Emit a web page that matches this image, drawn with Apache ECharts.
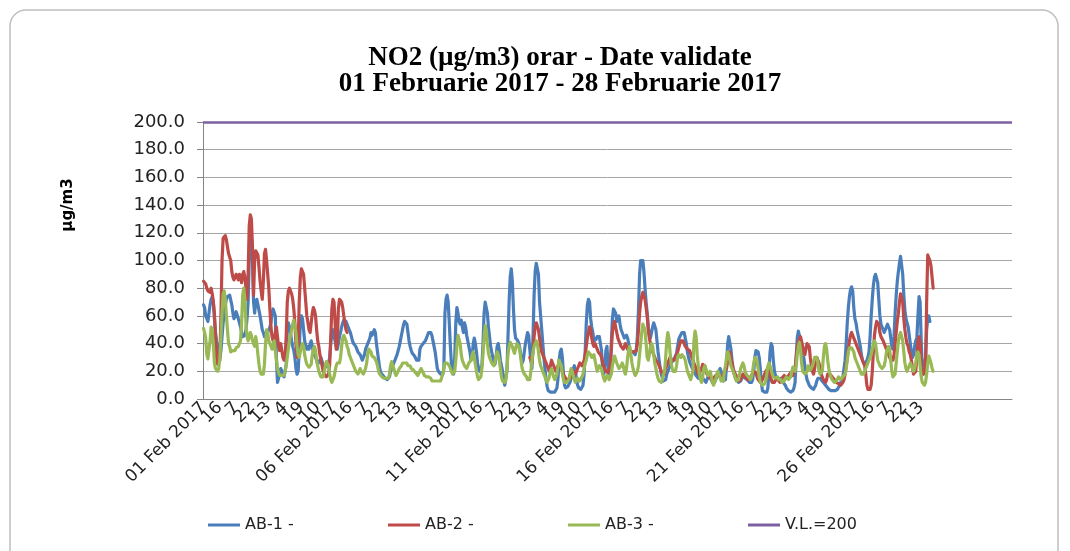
<!DOCTYPE html>
<html><head><meta charset="utf-8">
<script src="https://cdn.jsdelivr.net/npm/echarts@6/dist/echarts.min.js"></script>
<style>html,body{margin:0;padding:0;background:#fff}#c{width:1070px;height:551px}</style>
</head><body><div id="c"></div>
<script>
const _ = null;
const TITLE_1 = 'NO2 (µg/m3) orar - Date validate';
const TITLE_2 = '01 Februarie 2017 - 28 Februarie 2017';
const Y_NAME = 'µg/m3';
const MONTH = 'Feb 2017';
const DAYS_WITH_DATA = 28, DAYS_ON_AXIS = 31, HOURS = 24;
const LABEL_EVERY = 15;
const Y_MIN = 0, Y_MAX = 200, Y_STEP = 20;
const VL = 200;
const NAMES = ['AB-1 -', 'AB-2 -', 'AB-3 -', 'V.L.=200'];
const COLORS = ['#4A7EBB', '#BE4B48', '#98B954', '#7D60A0'];

// hourly values, one row per day (01..28 Feb 2017)
const AB1 = [
68,66,60,58,56,62,68,72,74,70,58,48,42,38,32,30,35,45,55,62,68,72,74,75,
75,74,68,62,58,60,63,62,58,55,52,48,45,44,46,50,58,70,100,114,116,100,70,62,
70,72,68,64,60,55,50,48,45,44,46,48,50,52,55,62,65,66,60,30,12,15,20,22,
22,18,16,20,25,50,55,52,48,42,38,35,30,22,18,20,35,55,60,58,50,42,38,36,
38,36,40,42,38,34,32,30,28,25,26,28,30,27,25,24,23,22,24,26,30,40,48,50,
45,42,38,36,40,45,48,52,55,57,56,56,54,52,50,48,45,42,40,40,38,36,34,33,
32,30,28,30,32,36,38,40,42,44,48,46,48,50,48,40,34,28,22,19,18,17,16,15,
15,14,14,16,20,22,24,26,28,30,32,35,38,42,46,50,54,56,57,54,48,42,38,35,
33,32,31,30,28,27,28,36,38,38,40,40,42,44,46,48,49,48,46,42,38,34,28,22,
20,19,18,17,18,22,62,72,75,70,55,38,25,20,18,30,55,66,62,56,54,57,52,48,
55,52,46,42,38,34,28,30,40,44,40,34,26,22,20,21,24,40,62,70,71,62,52,45,
38,34,30,27,25,30,38,40,35,28,24,20,14,10,9,20,45,70,88,94,85,65,50,44,
43,42,40,36,30,26,28,34,40,44,48,46,36,28,22,45,75,92,98,99,90,70,60,50,
40,30,22,14,9,6,5,5,4,5,6,5,6,8,15,28,34,36,30,18,10,8,9,9,
9,12,15,18,22,24,20,14,10,8,7,7,8,10,18,35,55,68,72,70,58,52,48,42,
42,43,45,46,45,44,35,22,18,22,35,38,25,18,20,40,58,65,66,62,56,58,60,54,
50,48,46,44,45,46,44,40,36,34,33,34,33,32,36,45,65,90,100,101,100,92,80,70,
62,52,46,44,48,52,55,54,50,42,34,28,22,18,15,13,12,14,18,20,22,24,26,27,
28,29,31,33,38,43,45,46,48,49,48,47,40,34,30,27,25,23,22,20,19,17,16,15,
18,17,16,15,14,13,12,14,16,18,16,14,12,11,12,14,15,17,20,22,20,15,13,12,
14,25,40,45,44,36,28,22,18,16,15,14,12,11,13,15,17,16,15,14,14,13,12,12,
12,14,20,30,35,36,34,30,22,12,6,5,5,4,5,8,20,34,40,38,28,20,17,15,
15,14,14,15,14,12,11,10,8,7,6,6,5,5,6,8,12,30,44,49,46,40,34,28,
30,24,18,14,12,10,9,8,8,7,8,10,13,15,16,15,14,13,12,11,10,9,8,7,
7,6,6,6,5,6,6,7,8,10,12,14,16,22,28,40,55,66,74,79,81,78,66,58,
55,50,46,42,38,32,28,26,25,26,28,30,34,45,60,72,82,88,90,89,84,72,60,54,
52,50,48,50,52,54,54,50,44,38,36,45,62,75,85,92,98,103,102,90,75,64,58,55,
52,46,40,34,30,32,38,42,44,60,74,70,42,22,18,17,30,50,58,60,56,_,_,_
];
const AB2 = [
85,84,83,80,78,78,77,80,76,70,62,45,30,25,24,28,60,100,116,117,118,115,110,105,
106,100,92,88,86,87,90,88,86,90,88,84,90,92,88,80,72,90,125,133,130,110,75,100,
107,108,104,95,85,78,72,85,105,108,100,90,80,65,52,45,42,40,48,52,45,38,35,40,
35,30,28,30,45,70,78,80,78,76,72,65,55,40,30,40,70,88,94,95,90,80,70,60,
55,50,48,55,62,66,64,60,50,42,38,32,28,24,20,18,17,16,15,18,25,45,65,72,
70,55,36,40,65,72,72,70,66,60,55,50,48,_,_,_,_,_,_,_,_,_,_,_,
_,_,_,_,_,_,_,_,_,_,_,_,_,_,_,_,_,_,_,_,_,_,_,_,
_,_,_,_,_,_,_,_,_,_,_,_,_,_,_,_,_,_,_,_,_,_,_,_,
_,_,_,_,_,_,_,_,_,_,_,_,_,_,_,_,_,_,_,_,_,_,_,_,
_,_,_,_,_,_,_,_,_,_,_,_,_,_,_,_,_,_,_,_,_,_,_,_,
_,_,_,_,_,_,_,_,_,_,_,_,_,_,_,_,_,_,_,_,_,_,_,_,
_,_,_,_,_,_,_,_,_,_,_,_,_,_,_,_,_,_,_,_,_,_,_,_,
_,_,_,_,_,_,_,_,_,_,_,_,30,28,26,34,45,52,55,54,50,44,38,34,
32,30,28,26,25,22,20,24,28,26,24,22,20,22,24,26,24,22,20,18,16,15,14,15,
14,15,16,18,20,19,18,20,22,24,26,25,24,26,28,32,38,44,48,52,50,44,40,38,
40,38,36,34,33,32,30,26,24,22,20,20,19,20,24,36,48,54,56,52,48,44,42,40,
38,37,36,38,40,38,36,35,34,33,34,35,34,33,35,40,50,62,70,74,77,76,72,66,
60,50,44,40,36,34,32,30,28,28,26,24,22,20,18,17,18,22,24,26,28,30,29,28,
27,28,30,32,34,37,40,42,43,42,40,38,37,36,36,35,33,30,28,26,24,22,20,18,
18,20,22,25,26,24,20,18,17,16,15,14,14,15,16,17,18,18,17,16,15,16,18,20,
20,22,28,32,34,30,26,22,20,18,17,15,14,13,14,16,18,17,16,15,14,14,15,16,
17,18,20,21,19,16,14,13,12,13,14,16,18,20,21,22,20,17,14,12,11,12,14,15,
14,13,12,13,15,16,17,16,15,16,17,18,19,18,17,19,22,30,38,41,43,45,44,38,
34,32,36,40,41,38,30,24,20,18,22,28,30,29,26,22,18,16,14,13,12,14,18,19,
18,17,16,15,14,13,12,11,11,10,10,11,12,14,18,24,30,36,42,46,48,47,44,42,
40,38,36,34,32,30,28,26,24,18,10,7,6,7,10,20,34,46,52,56,57,54,48,45,
44,42,40,38,36,34,32,30,28,27,28,32,40,48,56,62,70,76,77,70,58,50,44,40,
38,34,32,28,22,18,17,20,30,42,45,40,28,20,18,18,20,70,104,103,100,96,88,80
];
const AB3 = [
51,48,44,32,29,30,42,52,50,40,26,22,21,20,22,30,45,62,76,78,72,60,50,40,
38,34,33,35,36,35,37,38,38,40,42,55,75,80,72,55,45,42,45,48,46,42,40,38,
45,40,32,25,20,18,17,18,25,40,50,48,42,40,38,36,40,42,35,28,22,19,17,17,
17,16,17,20,24,30,36,42,46,50,54,57,56,48,38,32,30,34,38,40,38,32,28,25,
24,23,22,25,32,36,38,35,28,24,20,18,16,15,16,20,24,27,28,24,18,14,12,13,
16,20,24,26,27,26,30,38,44,46,45,42,38,36,32,30,28,26,24,22,20,19,18,20,
22,20,19,18,20,22,26,32,36,37,34,31,30,30,29,27,24,20,18,17,16,16,15,15,
15,14,15,18,24,27,26,22,19,17,18,20,22,21,24,26,27,26,25,26,24,23,24,22,
22,21,20,19,18,17,18,20,22,21,19,17,16,16,15,16,17,15,13,12,13,14,13,12,
13,12,13,14,18,22,26,27,26,25,24,22,20,18,17,20,28,38,46,47,40,32,28,26,
24,23,22,24,26,27,28,32,34,30,25,20,16,14,14,16,22,32,45,53,50,40,33,30,
28,26,25,24,27,31,34,32,28,22,16,13,12,12,14,22,32,38,41,41,38,35,33,32,
40,41,38,34,28,22,20,18,17,16,14,13,14,20,28,34,38,40,42,40,34,28,24,22,
20,18,16,14,12,13,16,20,22,19,16,14,13,18,24,28,29,24,18,14,12,11,12,13,
14,18,22,20,17,14,12,13,15,14,13,14,16,18,22,26,28,32,34,34,32,30,31,32,
28,24,20,22,24,25,22,18,15,13,14,17,16,14,13,18,24,28,31,30,26,24,22,21,
24,26,24,20,18,22,30,36,38,32,26,22,19,17,18,20,24,32,40,48,54,55,50,40,
30,28,32,38,40,38,32,26,22,18,15,13,12,12,14,18,20,30,42,48,44,34,26,22,
20,19,20,24,30,32,31,30,32,33,30,28,24,20,18,16,14,13,20,42,49,45,32,24,
18,14,12,16,22,24,22,19,17,18,20,16,12,10,11,14,18,20,19,16,13,12,13,20,
24,30,34,32,28,24,22,20,18,15,13,12,14,18,22,24,26,24,20,18,17,16,15,14,
16,20,26,30,31,28,22,16,12,11,10,10,11,13,18,24,26,24,21,18,16,15,15,16,
16,14,13,14,12,12,13,14,16,15,14,13,16,20,23,22,20,24,32,38,41,36,26,20,
20,18,17,20,24,23,21,22,24,27,30,31,30,26,20,18,17,20,30,38,40,36,28,22,
18,16,14,13,12,12,13,14,16,15,14,15,16,17,18,22,28,34,37,38,37,36,34,30,
28,26,24,22,20,18,17,18,20,22,24,26,28,30,32,36,40,42,40,34,28,26,24,24,
22,22,24,28,34,36,38,36,28,20,16,15,18,26,34,42,46,48,48,42,34,26,22,20,
22,24,26,24,22,20,22,26,32,34,32,24,16,12,11,10,12,18,26,31,30,26,22,20
];

// category labels: date at hour 1, hour number otherwise; axis spans 31 days
const categories = [];
for (let d = 1; d <= DAYS_ON_AXIS; d++) {
  for (let h = 1; h <= HOURS; h++) {
    if (d > DAYS_WITH_DATA) categories.push('');
    else categories.push(h === 1 ? String(d).padStart(2, '0') + ' ' + MONTH : String(h));
  }
}

const FONT = 'DejaVu Sans';
const chart = echarts.init(document.getElementById('c'), null, {renderer: 'canvas'});

function lineSeries(name, data, color) {
  return {
    name, type: 'line', data, symbol: 'none', showSymbol: false, connectNulls: false,
    lineStyle: {color, width: 3.2, join: 'round', cap: 'round'},
    itemStyle: {color}, emphasis: {disabled: true}, silent: true
  };
}

chart.setOption({
  animation: false,
  backgroundColor: '#ffffff',
  title: {
    text: TITLE_1 + '\n' + TITLE_2,
    left: 555, top: 40, textAlign: 'center',
    textStyle: {fontFamily: 'Liberation Serif', fontWeight: 'bold', fontSize: 27, lineHeight: 26, color: '#000'}
  },
  graphic: [
    {type: 'rect', shape: {x: 10, y: 10, width: 1048, height: 560, r: 16},
     style: {fill: 'none', stroke: '#bfbfbf', lineWidth: 1.5}, silent: true, z: -1},
    {type: 'text', x: 68, y: 205, rotation: Math.PI / 2,
     style: {text: Y_NAME, font: 'bold 15px "DejaVu Sans"', fill: '#000', textAlign: 'center', textVerticalAlign: 'middle'}}
  ],
  legend: NAMES.map((n, k) => ({
    data: [n], left: 203 + 180 * k, top: 512, icon: 'rect', itemWidth: 32, itemHeight: 3,
    selectedMode: false, textStyle: {fontFamily: FONT, fontSize: 16, color: '#222'}
  })),
  grid: {left: 203, right: 58, top: 122, bottom: 152},
  xAxis: {
    type: 'category', data: categories, boundaryGap: true,
    axisLine: {lineStyle: {color: '#868686', width: 1}},
    axisTick: {interval: 1, length: 5, lineStyle: {color: '#868686'}},
    axisLabel: {interval: 0, rotate: 45, margin: 6, hideOverlap: false,
      formatter: (v, i) => (i % LABEL_EVERY === 0 ? v : ''),
      fontFamily: FONT, fontSize: 17, color: '#222'},
    splitLine: {show: false}
  },
  yAxis: {
    type: 'value', min: Y_MIN, max: Y_MAX, interval: Y_STEP,
    axisLine: {show: true, lineStyle: {color: '#868686'}},
    axisTick: {show: true, length: 6, lineStyle: {color: '#868686'}},
    axisLabel: {formatter: v => v.toFixed(1), margin: 18, fontFamily: FONT, fontSize: 18, color: '#222'},
    splitLine: {lineStyle: {color: '#a6a6a6', width: 1}}
  },
  series: [
    lineSeries(NAMES[0], AB1, COLORS[0]),
    lineSeries(NAMES[1], AB2, COLORS[1]),
    lineSeries(NAMES[2], AB3, COLORS[2]),
    {
      name: NAMES[3], type: 'line', data: [], symbol: 'none',
      itemStyle: {color: COLORS[3]}, lineStyle: {color: COLORS[3], width: 2.5},
      markLine: {silent: true, symbol: ['none', 'none'], label: {show: false},
        lineStyle: {color: COLORS[3], width: 2.5, type: 'solid'}, data: [{yAxis: VL}]}
    }
  ]
});
</script>
</body></html>
